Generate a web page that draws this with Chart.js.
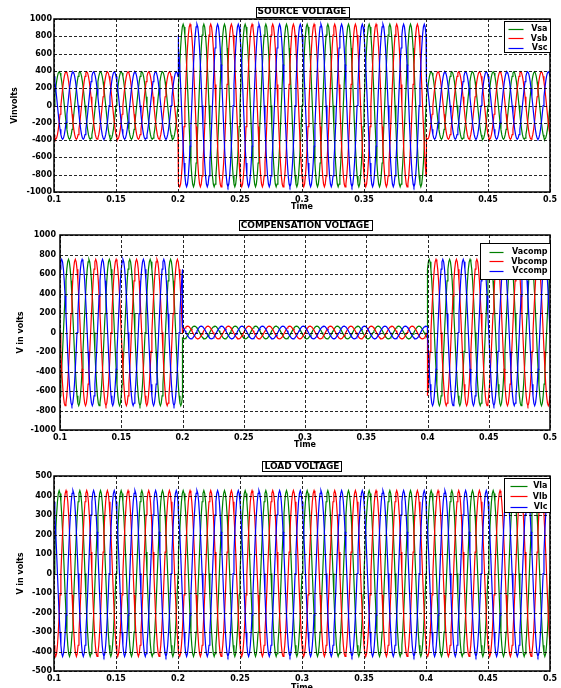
<!DOCTYPE html>
<html lang="en">
<head>
<meta charset="UTF-8">
<title>Source, compensation and load voltage</title>
<script src="https://cdn.jsdelivr.net/npm/chart.js"></script>
<style>
  html, body { margin: 0; padding: 0; background: #fff; overflow: hidden; }
  body { width: 561px; height: 688px; position: relative; }
  .panel { position: absolute; left: 0; }
</style>
</head>
<body>
<div class="panel" style="top:0px"><canvas id="srcChart" width="561" height="215"></canvas></div>
<div class="panel" style="top:215px"><canvas id="compChart" width="561" height="235"></canvas></div>
<div class="panel" style="top:450px"><canvas id="loadChart" width="561" height="245"></canvas></div>
<script>
// axis ticks
const timeTicks = [0.1, 0.15, 0.2, 0.25, 0.3, 0.35, 0.4, 0.45, 0.5];
const voltTicks = [-1000, -800, -600, -400, -200, 0, 200, 400, 600, 800, 1000];
const loadTicks = [-500, -400, -300, -200, -100, 0, 100, 200, 300, 400, 500];

// the run is split at the sag/swell instants
const switchTimes = [0.1, 0.2, 0.4, 0.5];
const supplyHz = 60;

// one cycle of a unit wave, every 15 degrees
const unitCycle = [0, 0.259, 0.5, 0.707, 0.866, 0.966, 1, 0.966, 0.866, 0.707, 0.5, 0.259,
                   0, -0.259, -0.5, -0.707, -0.866, -0.966, -1, -0.966, -0.866, -0.707, -0.5, -0.259];

// peak volts and phase (deg) for each interval
const vsaAmp = [390, 940, 390], vsaPhase = [0, 0, 0];
const vsbAmp = [390, 940, 390], vsbPhase = [-120, -120, -120];
const vscAmp = [390, 940, 390], vscPhase = [120, 120, 120];

const vacompAmp = [750, 65, 750], vacompPhase = [-60, -120, 60];
const vbcompAmp = [750, 65, 750], vbcompPhase = [180, 0, -60];
const vccompAmp = [750, 65, 750], vccompPhase = [60, 120, 180];

const vlaAmp = [425, 425, 425], vlaPhase = [0, 0, 0];
const vlbAmp = [425, 425, 425], vlbPhase = [-120, -120, -120];
const vlcAmp = [425, 425, 425], vlcPhase = [120, 120, 120];

const GREEN = '#008000', RED = '#ff0000', BLUE = '#0000ff';
const FONT = "'DejaVu Sans', 'Liberation Sans', sans-serif";

function wave(amp, phase) {
  const n = unitCycle.length;
  const step = 1 / supplyHz / n;
  const pts = [];
  for (let s = 0; s < amp.length; s++) {
    const i0 = Math.round((switchTimes[s] - switchTimes[0]) / step);
    const i1 = Math.round((switchTimes[s + 1] - switchTimes[0]) / step);
    const shift = Math.round(phase[s] / 15);
    for (let i = i0; i <= i1; i++) {
      const k = (((i + shift) % n) + n) % n;
      pts.push({ x: switchTimes[0] + i * step, y: amp[s] * unitCycle[k] });
    }
  }
  return pts;
}

// dashed grid over the traces, box frame, boxed title and legend
const scopePlugin = {
  id: 'scope',
  afterDatasetsDraw(chart, args, o) {
    const { ctx, chartArea: a, scales: { x, y } } = chart;
    ctx.save();
    ctx.strokeStyle = 'rgba(0,0,0,0.85)';
    ctx.lineWidth = 1;
    ctx.setLineDash([3, 2]);
    ctx.beginPath();
    x.ticks.forEach(t => {
      const px = Math.round(x.getPixelForValue(t.value)) + 0.5;
      ctx.moveTo(px, a.top); ctx.lineTo(px, a.bottom);
    });
    y.ticks.forEach(t => {
      const py = Math.round(y.getPixelForValue(t.value)) + 0.5;
      ctx.moveTo(a.left, py); ctx.lineTo(a.right, py);
    });
    ctx.stroke();
    ctx.setLineDash([]);
    ctx.strokeStyle = '#000';
    ctx.lineWidth = 1.5;
    ctx.strokeRect(a.left, a.top, a.right - a.left, a.bottom - a.top);
    ctx.restore();
  },
  afterDraw(chart, args, o) {
    const { ctx, chartArea: a } = chart;
    ctx.save();
    // title
    ctx.font = 'bold 9px ' + FONT;
    const tw = ctx.measureText(o.title).width;
    const cx = (a.left + a.right) / 2;
    const cy = a.top + o.titleDy;
    ctx.fillStyle = '#fff';
    ctx.fillRect(cx - tw / 2 - 2, cy - 5, tw + 4, 10);
    ctx.strokeStyle = '#000';
    ctx.lineWidth = 1;
    ctx.strokeRect(Math.round(cx - tw / 2 - 2) + 0.5, Math.round(cy - 5) + 0.5, Math.round(tw + 4), 10);
    ctx.fillStyle = '#000';
    ctx.textAlign = 'center';
    ctx.textBaseline = 'middle';
    ctx.fillText(o.title, cx, cy + 0.5);

    // legend
    const lg = o.legend;
    const bx = Math.round(a.right - lg.w) + 0.5, by = Math.round(a.top + lg.dy) + 0.5;
    ctx.fillStyle = '#fff';
    ctx.fillRect(bx, by, lg.w, lg.h);
    ctx.strokeStyle = '#000';
    ctx.lineWidth = 1;
    ctx.strokeRect(bx, by, lg.w, lg.h);
    ctx.font = 'bold 8px ' + FONT;
    ctx.textAlign = 'right';
    chart.data.datasets.forEach((ds, i) => {
      const ry = by + lg.rowTop + i * lg.rowGap;
      ctx.strokeStyle = ds.borderColor;
      ctx.lineWidth = 1.2;
      ctx.beginPath();
      ctx.moveTo(bx + lg.lineFrom, Math.round(ry) + 0.5);
      ctx.lineTo(bx + lg.lineTo, Math.round(ry) + 0.5);
      ctx.stroke();
      ctx.fillStyle = '#000';
      ctx.fillText(ds.label, bx + lg.w - 3, ry + 0.5);
    });
    ctx.restore();
  }
};

function scopeChart(id, cfg) {
  const tickFont = { family: FONT, size: 8, weight: 'bold' };
  return new Chart(document.getElementById(id), {
    type: 'line',
    data: { datasets: cfg.series.map((s, i) => ({
      label: s.label,
      data: wave(s.amp, s.phase),
      borderColor: s.color,
      borderWidth: 1.2,
      pointRadius: 0,
      tension: 0,
      order: 2 - i
    })) },
    options: {
      responsive: false,
      animation: false,
      events: [],
      layout: { padding: { top: cfg.padTop, right: 561 - cfg.plotRight, left: 0, bottom: 0 } },
      scales: {
        x: {
          type: 'linear', min: 0.1, max: 0.5,
          afterBuildTicks: s => { s.ticks = timeTicks.map(v => ({ value: v })); },
          afterFit: s => { s.height = cfg.xAxisH; },
          ticks: { font: tickFont, color: '#000', padding: cfg.xTickPad, maxRotation: 0, autoSkip: false,
                   callback: v => String(v) },
          grid: { display: false, drawTicks: false },
          border: { display: false },
          title: { display: true, text: 'Time', color: '#000', font: tickFont,
                   padding: { top: 0, bottom: cfg.timePad } }
        },
        y: {
          min: cfg.yTicks[0], max: cfg.yTicks[cfg.yTicks.length - 1],
          afterBuildTicks: s => { s.ticks = cfg.yTicks.map(v => ({ value: v })); },
          afterFit: s => { s.width = cfg.plotLeft; },
          ticks: { font: tickFont, color: '#000', padding: cfg.yTickPad, autoSkip: false,
                   callback: v => String(v) },
          grid: { display: false, drawTicks: false },
          border: { display: false },
          title: { display: true, text: cfg.yTitle, color: '#000', font: tickFont,
                   padding: { top: cfg.yTitlePad, bottom: 0 } }
        }
      },
      plugins: {
        legend: { display: false },
        tooltip: { enabled: false },
        scope: { title: cfg.title, titleDy: cfg.titleDy, legend: cfg.legend }
      }
    },
    plugins: [scopePlugin]
  });
}

scopeChart('srcChart', {
  title: 'SOURCE VOLTAGE', titleDy: -7.5, yTitle: 'Vinvolts', yTicks: voltTicks,
  padTop: 19, plotLeft: 54, plotRight: 550, xAxisH: 23,
  xTickPad: 3, yTickPad: 2, timePad: 3, yTitlePad: 10,
  legend: { dy: 2, w: 46, h: 31, rowTop: 7, rowGap: 9.5, lineFrom: 4, lineTo: 19 },
  series: [
    { label: 'Vsa', color: GREEN, amp: vsaAmp, phase: vsaPhase },
    { label: 'Vsb', color: RED, amp: vsbAmp, phase: vsbPhase },
    { label: 'Vsc', color: BLUE, amp: vscAmp, phase: vscPhase }
  ]
});

scopeChart('compChart', {
  title: 'COMPENSATION VOLTAGE', titleDy: -10, yTitle: 'V in volts', yTicks: voltTicks,
  padTop: 20, plotLeft: 60, plotRight: 550, xAxisH: 20,
  xTickPad: 3, yTickPad: 4, timePad: 0, yTitlePad: 16,
  legend: { dy: 8, w: 70, h: 36, rowTop: 8, rowGap: 9.5, lineFrom: 9, lineTo: 23 },
  series: [
    { label: 'Vacomp', color: GREEN, amp: vacompAmp, phase: vacompPhase },
    { label: 'Vbcomp', color: RED, amp: vbcompAmp, phase: vbcompPhase },
    { label: 'Vccomp', color: BLUE, amp: vccompAmp, phase: vccompPhase }
  ]
});

scopeChart('loadChart', {
  title: 'LOAD VOLTAGE', titleDy: -10, yTitle: 'V in volts', yTicks: loadTicks,
  padTop: 26, plotLeft: 54, plotRight: 550, xAxisH: 24,
  xTickPad: 3, yTickPad: 2, timePad: 2, yTitlePad: 16,
  legend: { dy: 2, w: 46, h: 34, rowTop: 7, rowGap: 10.5, lineFrom: 6, lineTo: 23 },
  series: [
    { label: 'Vla', color: GREEN, amp: vlaAmp, phase: vlaPhase },
    { label: 'Vlb', color: RED, amp: vlbAmp, phase: vlbPhase },
    { label: 'Vlc', color: BLUE, amp: vlcAmp, phase: vlcPhase }
  ]
});
</script>
</body>
</html>
